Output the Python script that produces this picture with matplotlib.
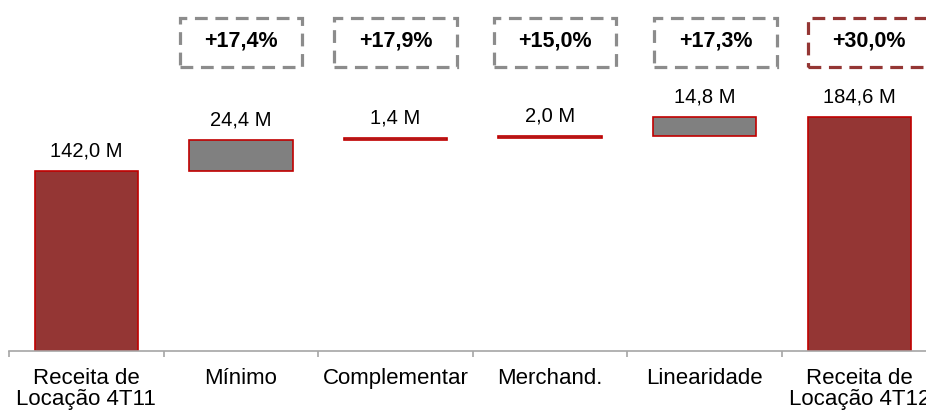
import numpy as np
import matplotlib.pyplot as plt
from matplotlib.patches import Rectangle
from matplotlib.transforms import blended_transform_factory

plt.rcParams['font.family'] = ['Liberation Sans', 'DejaVu Sans']

categories = ['Receita de\nLocação 4T11', 'Mínimo', 'Complementar',
              'Merchand.', 'Linearidade', 'Receita de\nLocação 4T12']
values = [142.0, 24.4, 1.4, 2.0, 14.8, 184.6]   # R$ milhões
is_total = [True, False, False, False, False, True]
value_labels = ['142,0 M', '24,4 M', '1,4 M', '2,0 M', '14,8 M', '184,6 M']
growth_labels = ['+17,4%', '+17,9%', '+15,0%', '+17,3%', '+30,0%']

TOTAL_FILL = '#943634'
STEP_FILL = '#808080'
EDGE = '#C00000'
BOX_GREY = '#8C8C8C'
AXIS_GREY = '#A6A6A6'

W, H = 926, 412
fig = plt.figure(figsize=(W / 100, H / 100), dpi=100)
# axes run a bit past the right border so the last column is cut off
ax = fig.add_axes([9 / W, 61 / H, 927.6 / W, 351 / H])
ax.set_xlim(-0.5, len(categories) - 0.5)
ax.set_ylim(0, 276.8)

# waterfall bottoms
bottoms = []
running = 0.0
for v, tot in zip(values, is_total):
    if tot:
        bottoms.append(0.0)
        running = v
    else:
        bottoms.append(running)
        running += v

x = np.arange(len(categories))
for i in range(len(categories)):
    fill = TOTAL_FILL if is_total[i] else STEP_FILL
    ax.bar(x[i], values[i], bottom=bottoms[i], width=0.67, color=fill,
           edgecolor=EDGE, linewidth=1.2)
    ax.annotate(value_labels[i], (x[i], bottoms[i] + values[i]),
                xytext=(0, 10.5), textcoords='offset points',
                ha='center', va='baseline', fontsize=14.5)

# growth boxes on top of each column after the first
trans = blended_transform_factory(ax.transData, ax.transAxes)
box_dx = [0.0, 0.0, 0.03, 0.07, 0.06]
box_w = 0.79
for j, lab in enumerate(growth_labels):
    cx = x[j + 1] + box_dx[j]
    col = TOTAL_FILL if j == len(growth_labels) - 1 else BOX_GREY
    r = Rectangle((cx - box_w / 2, 0.81), box_w, 0.14, transform=trans,
                  fill=False, edgecolor=col, linewidth=2.3,
                  linestyle=(0, (4, 2.4)), clip_on=False)
    ax.add_patch(r)
    ax.text(cx, 0.882, lab, transform=trans, ha='center', va='center',
            fontsize=15.5, fontweight='bold')

for s in ['top', 'right', 'left']:
    ax.spines[s].set_visible(False)
ax.spines['bottom'].set_color(AXIS_GREY)
ax.spines['bottom'].set_linewidth(1.2)
ax.set_yticks([])

ax.set_xticks(np.arange(len(categories) + 1) - 0.5)
ax.set_xticklabels([])
ax.tick_params(axis='x', length=4, color=AXIS_GREY, width=1.2)
ax.set_xticks(x, minor=True)
ax.set_xticklabels(categories, minor=True, fontsize=16, linespacing=1.05)
ax.tick_params(axis='x', which='minor', length=0, pad=12)

fig.savefig('out.png', dpi=100)
